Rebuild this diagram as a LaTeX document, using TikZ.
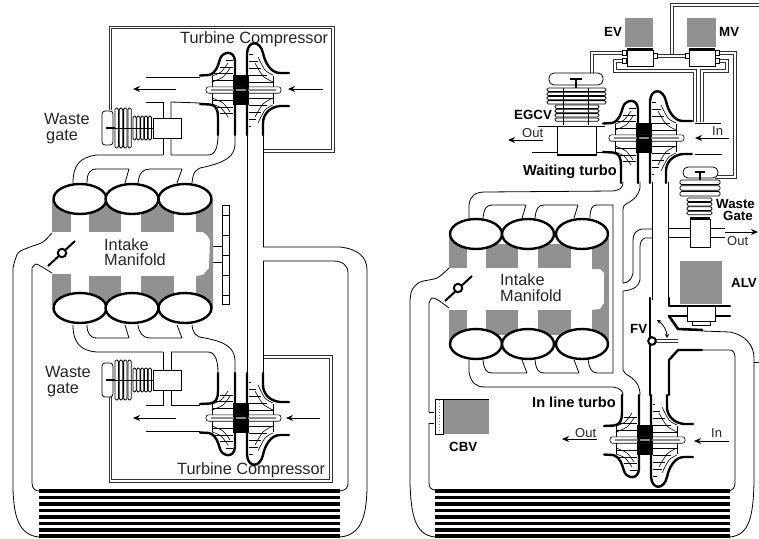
\documentclass[tikz,border=0pt]{standalone}
\usepackage{fontspec}
\setmainfont{Liberation Sans}
\usetikzlibrary{arrows.meta}
\definecolor{halft}{gray}{0.57}
\tikzset{
 ln/.style={line width=0.8pt,black},
 hl/.style={line width=0.6pt,black},
 thk/.style={line width=2.4pt,black,line cap=round,line join=round},
 dbl/.style={double=white,line width=0.9pt,double distance=1.5pt,draw=black!80},
 arw/.style={line width=0.8pt,-{Stealth[length=7pt,width=6pt]}},
 lbl/.style={anchor=base west,inner sep=0pt,font=\fontsize{16.3}{16}\selectfont,text=black!85},
 sml/.style={anchor=base west,inner sep=0pt,font=\fontsize{13}{13}\selectfont,text=black!85},
 bld/.style={anchor=base west,inner sep=0pt,font=\fontsize{13.3}{13.3}\selectfont\bfseries},
 bldw/.style={anchor=base west,inner sep=0pt,font=\fontsize{14.6}{14.6}\selectfont\bfseries},
 rib/.style={ln,fill=white,rounded corners=1.4pt},
 cyl/.style={line width=2.4pt,fill=white,draw=black}
}
\newcommand{\turbo}[3]{%
\begin{scope}[shift={(#1,#2)},yscale=#3]
 \fill[black] (-10,-15) rectangle (6,15);
 \foreach \y/\a/\b in {-23/-23/-10,-17/-29/-10,-10/-31/-10,10/-31/-10,17/-28/-10,23/-23/-10,-30/-17/-10}
  \draw[hl] (\a,\y) -- (\b,\y);
 \foreach \y/\b in {-36/10,-29/15,-22/18,-15/24,-8/30,8/30,15/24,22/18,29/13,36/8}
  \draw[hl] (6,\y) -- (\b,\y);
 \draw[hl] (-31,-14) -- (-31,14);
 \draw[hl] (30,-14) -- (30,14);
 \draw[hl] plot[smooth] coordinates {(-31,-14) (-22,-18) (-15,-27)};
 \draw[hl] plot[smooth] coordinates {(-31,-8) (-20,-13) (-13,-22)};
 \draw[hl] plot[smooth] coordinates {(-31,14) (-22,18) (-15,27)};
 \draw[hl] plot[smooth] coordinates {(-31,8) (-20,13) (-13,22)};
 \draw[hl] plot[smooth] coordinates {(30,-15) (22,-20) (15,-33)};
 \draw[hl] plot[smooth] coordinates {(30,-8) (20,-14) (12,-27)};
 \draw[hl] plot[smooth] coordinates {(30,15) (22,20) (15,33)};
 \draw[hl] plot[smooth] coordinates {(30,8) (20,14) (12,27)};
 \draw[hl,fill=white,rounded corners=2.5pt] (-37,-3.2) rectangle (38,3.2);
 \fill[black] (-10,-3.2) rectangle (6,3.2);
 \draw[line width=1.6pt,black!45] (-32,0) -- (33,0);
 \draw[thk] (-43,-14.5) -- (-34,-15) .. controls (-27,-17) and (-25,-24) .. (-23,-31)
   .. controls (-21,-38) and (-9,-41) .. (-8,-29) -- (-8,45);
 \draw[thk] (4,45) -- (4,-37) .. controls (5,-50) and (17,-50) .. (20,-37)
   .. controls (22,-27) and (28,-17) .. (37,-17) -- (46,-17);
 \draw[thk] (-43,14) -- (-33,14.5) .. controls (-27,15) and (-25,20) .. (-25,27) -- (-25,45);
 \draw[thk] (46,16) -- (37,16) .. controls (27,17) and (20,24) .. (20,33) -- (20,45);
\end{scope}}
\newcommand{\hgate}[1]{%
\begin{scope}[shift={(0,#1)}]
 \draw[rib,rounded corners=3pt] (102,-17) rectangle (113,17);
 \foreach \x in {115,119.3,123.6,127.9} \draw[rib] (\x,-20) rectangle (\x+3.4,20);
 \foreach \x in {133,136.8,140.6,144.4,148.2} \draw[rib] (\x,-12) rectangle (\x+3.2,12);
 \draw[line width=1.5pt] (106,0) -- (115,0);
 \draw[ln] (115,0) -- (153,0);
 \draw[ln,fill=white] (153,-10) rectangle (181,10);
\end{scope}}
\newcommand{\radiator}[2]{%
 \foreach \y in {491,497.3,503.8,510.3,516.8,523.3,529.8,536}
  \fill[black] (#1,\y-1.7) rectangle (#2,\y+1.7);}
\begin{document}
\begin{tikzpicture}[x=1pt,y=-1pt]
\useasboundingbox (0,0) rectangle (759,538);
\fill[white] (0,0) rectangle (759,538);

% ---------- LEFT ENGINE ----------
\draw[dbl] (110.5,110) -- (110.5,27.5) -- (333,27.5) -- (333,151) -- (263,151);
\draw[dbl] (110.5,397) -- (110.5,481) -- (331,481) -- (331,357) -- (263,357);
\node[lbl] (tc1) at (180,43) {Turbine Compressor};
\node[lbl] (tc2) at (177,474) {Turbine Compressor};
% shaded blocks
\fill[halft] (52,200) rectangle (71,232);
\fill[halft] (89,205) rectangle (121,232);
\fill[halft] (141,205) rectangle (174,232);
\fill[halft] (196,200) -- (213,200) -- (213,308) -- (196,308) -- (196,276) -- (203,275) -- (209,268) -- (210,240) -- (207,235) -- (203,232) -- (196,232) -- cycle;
\fill[halft] (52,274) rectangle (71,305);
\fill[halft] (89,276) rectangle (121,305);
\fill[halft] (141,276) rectangle (174,305);
% cylinders
\foreach \x in {80,132,185}{
 \draw[cyl] (\x,199) ellipse (26.5 and 15);
 \draw[cyl] (\x,308) ellipse (26.5 and 15);
}
\node[lbl] (im1) at (104,250) {Intake};
\node[lbl] (im2) at (104,265) {Manifold};
% ladder
\draw[ln,fill=white] (222,205) rectangle (229,304);
\foreach \y in {215,235,255,275,295} \draw[ln] (222,\y) -- (229,\y);
\draw[ln] (213,246) -- (222,246) (213,262) -- (222,262);
% throttle
\draw[line width=2pt] (48,266) -- (75,241);
\draw[line width=2pt,fill=white] (62,253) circle (4.2);
% outer air loop
\draw[ln] plot[smooth] coordinates {(52,233) (43,242) (30,247) (18,253) (13,268)} -- (13,490);
\draw[ln] (13,490) .. controls (14,515) and (18,535) .. (39,537);
\draw[ln] plot[smooth] coordinates {(52,273) (42,267) (36,264) (32,268)} -- (32,483) .. controls (32,488) and (35,491) .. (39,491);
\draw[ln] (263,247) -- (340,247) .. controls (358,249) and (367,257) .. (367,270) -- (367,490) .. controls (366,515) and (362,535) .. (340,537);
\draw[ln] (263,261) -- (333,261) .. controls (342,261) and (348,265) .. (348,273) -- (348,483) .. controls (348,488) and (346,490) .. (340,491);
% shafts
\draw[ln] (247,133) -- (247,373);
\draw[ln] (263,133) -- (263,247);
\draw[ln] (263,261) -- (263,373);
% exhaust pipes top
\draw[ln] (163,155) -- (97,155) .. controls (80,157) and (73,165) .. (73,183);
\draw[ln] (171,155) -- (208,155) .. controls (215,155) and (218,148) .. (218,135);
\draw[ln] (235,135) -- (235,145) .. controls (234,157) and (225,162) .. (205,167) .. controls (195,168) and (193,173) .. (192,183);
\draw[ln] (87,183) .. controls (87,173) and (90,169) .. (97,169) -- (129,169) (125,183) -- (129,169);
\draw[ln] (138,183) .. controls (139,173) and (143,169) .. (150,169) -- (182,169) (177,183) -- (182,169);
% exhaust pipes bottom
\draw[ln] (163,352) -- (97,352) .. controls (80,351) and (73,342) .. (73,325);
\draw[ln] (171,352) -- (208,352) .. controls (215,352) and (218,360) .. (218,373);
\draw[ln] (235,373) -- (235,360) .. controls (234,347) and (225,342) .. (205,338) .. controls (195,337) and (193,333) .. (192,325);
\draw[ln] (87,325) .. controls (87,333) and (90,338) .. (97,338) -- (129,338) (125,325) -- (129,338);
\draw[ln] (138,325) .. controls (139,333) and (143,338) .. (150,338) -- (182,338) (177,325) -- (182,338);
% waste gate plumbing
\draw[ln] (146,77) -- (200,77);
\draw[ln] (146,102) -- (163,102) -- (163,155);
\draw[ln] (200,103) -- (171,102) -- (171,155);
\draw[ln] (146,431) -- (200,431);
\draw[ln] (146,405) -- (163,405) -- (163,352);
\draw[ln] (200,405) -- (171,405) -- (171,352);
\hgate{128}
\hgate{380}
\node[lbl] (wg1) at (44,124) {Waste};
\node[lbl] (wg1b) at (46,140) {gate};
\node[lbl] (wg2) at (45,377) {Waste};
\node[lbl] (wg2b) at (47,393) {gate};
\turbo{243}{90}{1}
\turbo{243}{418}{-1}
\draw[arw] (176,89) -- (133,89);
\draw[arw] (323,89) -- (288,89);
\draw[arw] (176,418) -- (133,418);
\draw[arw] (320,418) -- (286,418);
\radiator{39}{340}

% ---------- RIGHT ENGINE ----------
\fill[halft] (449,238) rectangle (467,268);
\fill[halft] (486,244) rectangle (518,268);
\fill[halft] (538,244) rectangle (571,268);
\fill[halft] (592,238) -- (609,238) -- (609,340) -- (592,340) -- (592,310) -- (600,309) -- (604,303) -- (604,273) -- (600,269) -- (592,269) -- cycle;
\fill[halft] (449,310) rectangle (467,340);
\fill[halft] (486,310) rectangle (518,335);
\fill[halft] (538,310) rectangle (571,335);
\foreach \x in {476,528,582}{
 \draw[cyl] (\x,234) ellipse (26 and 15);
 \draw[cyl] (\x,344) ellipse (26 and 15);
}
\node[lbl] (im3) at (500,285) {Intake};
\node[lbl] (im4) at (500,301) {Manifold};
\draw[line width=2pt] (445,301) -- (472,276);
\draw[line width=2pt,fill=white] (458,288) circle (4.2);
% air loop
\draw[ln] plot[smooth] coordinates {(449,268) (437,278) (420,282) (412,290) (410,300)} -- (410,483) .. controls (411,515) and (415,535) .. (435,537);
\draw[ln] plot[smooth] coordinates {(449,308) (438,300) (432,298) (429,303)} -- (429,412);
\draw[ln] (429,423) -- (429,483) .. controls (429,487) and (431,490) .. (435,490);
\draw[ln] (429,412) -- (434,412) (429,423) -- (434,423);
% exhaust top
\draw[ln] (469,218) -- (469,205) .. controls (470,196) and (475,192) .. (485,192) -- (613,191) .. controls (620,190) and (623,188) .. (623,182);
\draw[ln] (483,218) .. controls (484,209) and (486,205) .. (492,205) -- (526,205) (522,218) -- (526,205);
\draw[ln] (535,218) .. controls (536,209) and (538,205) .. (544,205) -- (578,205) (574,218) -- (578,205);
\draw[ln] (590,218) .. controls (590,209) and (592,205) .. (597,205) -- (613,205) -- (613,373) -- (597,373) .. controls (591,373) and (589,367) .. (588,359);
% exhaust bottom
\draw[ln] (469,360) -- (469,372) .. controls (471,383) and (476,387) .. (485,387) -- (613,387) .. controls (620,388) and (623,391) .. (623,395);
\draw[ln] (483,360) .. controls (484,369) and (486,373) .. (492,373) -- (527,373) (522,360) -- (527,373);
\draw[ln] (535,360) .. controls (536,369) and (538,373) .. (544,373) -- (579,373) (574,360) -- (579,373);
% crossover
\draw[ln] (640,182) -- (640,188) .. controls (638,197) and (632,201) .. (626,204) .. controls (623,206) and (623,208) .. (623,210) -- (623,283);
\draw[ln] (652,229) -- (642,229) .. controls (636,230) and (633,234) .. (633,240) -- (633,273) .. controls (632,279) and (628,283) .. (623,283);
\draw[ln] (652,238) -- (645,238) .. controls (642,239) and (640,242) .. (640,247) -- (640,280) .. controls (639,286) and (634,290) .. (623,291);
\draw[ln] (623,291) -- (623,370) .. controls (625,375) and (630,376) .. (632,378) .. controls (637,382) and (640,387) .. (640,395);
\draw[ln] (652,182) -- (652,300);
\draw[ln] (668,182) -- (668,298);
% right loop
\draw[ln] (702,331) -- (730,332) .. controls (745,335) and (754,345) .. (754,358) -- (754,483) .. controls (753,515) and (750,535) .. (730,537);
\draw[ln] (703,350) -- (730,350) .. controls (733,350) and (735,353) .. (735,357) -- (735,483) .. controls (735,487) and (733,490) .. (730,491);
\draw[ln] (754,362) -- (759,362);
\draw[dbl] (759,5) -- (672,5) -- (672,55);
% EV / MV
\draw[dbl] (622,53) -- (592,53) -- (592,74);
\draw[dbl] (622,61) -- (615,61) -- (615,71) -- (695,71) -- (695,122);
\draw[dbl] (715,61) -- (727,61) -- (727,71) -- (702,71) -- (702,122);
\draw[dbl] (715,53) -- (735,53) -- (735,177) -- (715,177);
\draw[dbl] (653,56) -- (689,56);
\fill[halft] (625,18) rectangle (653,47);
\fill[halft] (687,18) rectangle (716,47);
\draw[ln,fill=white] (627,50) rectangle (653,66);
\draw[ln,fill=white] (689,50) rectangle (715,66);
\foreach \x/\y in {622/50.5,622/58.5,653/53,685/53,715/50.5,715/58.5}
 \draw[ln,fill=white] (\x,\y) rectangle (\x+4.5,\y+5);
\draw[line width=1.6pt] (627,49) -- (653,49) (689,49) -- (715,49);
\node[bld] (ev) at (604,36) {EV};
\node[bld] (mv) at (719,36) {MV};
% EGCV
\draw[ln] (538,126) -- (605,126);
\draw[ln] (532,152) -- (605,152);
\draw[rib,rounded corners=5pt] (549,73) rectangle (603,85);
\draw[line width=1.6pt] (576,79) -- (576,88) (570,79) -- (582,79);
\foreach \y in {88,92.2,96.4,100.6} \draw[rib] (547,\y) rectangle (606,\y+3.4);
\foreach \y in {105,109.3,113.6,117.9} \draw[rib] (555,\y) rectangle (599,\y+3.4);
\draw[ln] (563,88) -- (563,125) (588,88) -- (588,125);
\draw[ln,fill=white] (557,126) rectangle (596,155);
\draw[line width=1.5pt] (557,155) -- (596,155);
\node[bld] (egcv) at (514,119) {EGCV};
\node[sml] (out1) at (522,137) {Out};
\draw[arw] (543,140) -- (508,140);
\node[bldw] (wt) at (523,175) {Waiting turbo};
\turbo{646}{138}{1}
\draw[ln] (695,123) -- (721,123);
\draw[ln] (695,154) -- (722,154);
\node[sml] (in1) at (712,135) {In};
\draw[arw] (729,138) -- (695,138);
% Waste gate right
\draw[ln] (668,228) -- (690,228) (668,237) -- (690,237) (710,228) -- (725,228) (710,237) -- (725,237);
\draw[rib,rounded corners=5pt] (683,167) rectangle (718,178);
\draw[line width=1.6pt] (700,172) -- (700,180) (695,172) -- (705,172);
\foreach \y in {180,185.7,191.4} \draw[rib] (680,\y) rectangle (720,\y+4.6);
\foreach \y in {198,202.4,206.8,211.2} \draw[rib] (687,\y) rectangle (712,\y+3.6);
\draw[ln,fill=white] (690,219) rectangle (710,247);
\draw[line width=1.5pt] (690,218) -- (710,218);
\node[bld] (wg3) at (716,208) {Waste};
\node[bld] (wg4) at (723,220) {Gate};
\draw[arw] (725,232) -- (758,232);
\node[sml] (out2) at (727,245) {Out};
% ALV
\fill[halft] (680,261) rectangle (722,304);
\draw[thk,line width=2.6pt] (669,298) -- (669,306) -- (730,306);
\draw[thk,line width=2.6pt] (669,316) -- (730,316);
\draw[thk,line width=2.6pt] (669,316) -- (678,329) -- (702,330);
\draw[ln,fill=white] (687,306) rectangle (715,321);
\draw[ln,fill=white] (692,321) rectangle (710,325);
\node[bld] (alv) at (731,287) {ALV};
% FV and in line turbo
\draw[thk] (650,298) -- (650,395);
\draw[thk] (702,350) -- (678,350) -- (669,360) -- (669,395);
\draw[dbl] (652,341) -- (678,341);
\draw[line width=2pt,fill=white] (652,341) circle (3.8);
\draw[line width=0.8pt,{Stealth[length=4pt,width=4pt]}-{Stealth[length=4pt,width=4pt]}] (657,320) .. controls (663,324) and (667,331) .. (667,338);
\node[bld] (fv) at (630,333) {FV};
\node[bldw] (ilt) at (532,407) {In line turbo};
\turbo{647}{440}{-1}
\node[sml] (out3) at (575,437) {Out};
\draw[arw] (597,439) -- (562,439);
\node[sml] (in2) at (711,437) {In};
\draw[arw] (729,441) -- (694,441);
% CBV
\fill[halft] (443,399) rectangle (489,434);
\draw[ln,fill=white] (435,399) rectangle (443,434);
\draw[line width=1pt,dotted,black!55] (439,400) -- (439,433);
\draw[line width=1pt] (435,399) -- (489,399);
\node[bld] (cbv) at (449,451) {CBV};
\radiator{435}{730}
\end{tikzpicture}
\end{document}
